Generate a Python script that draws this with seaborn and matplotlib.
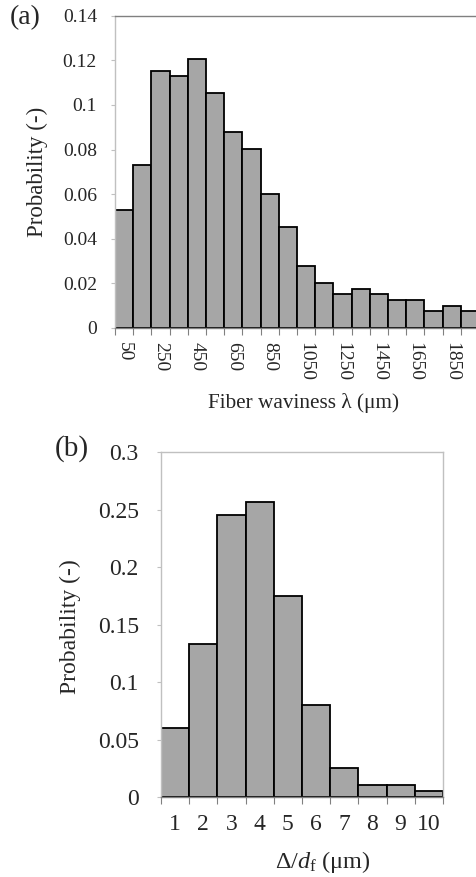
import numpy as np
import pandas as pd
import matplotlib
matplotlib.use("Agg")
import matplotlib.pyplot as plt
import seaborn as sns

# ---- data ----
lam_bins = ["50", "150", "250", "350", "450", "550", "650", "750", "850", "950",
            "1050", "1150", "1250", "1350", "1450", "1550", "1650", "1750", "1850", "1950"]
lam_prob = [0.0527, 0.0729, 0.1153, 0.1129, 0.1204, 0.1053, 0.0878, 0.0802, 0.0602, 0.0451,
            0.0276, 0.0200, 0.0151, 0.0176, 0.0151, 0.0125, 0.0125, 0.0075, 0.0100, 0.0075]
lam_yticks = [0, 0.02, 0.04, 0.06, 0.08, 0.1, 0.12, 0.14]

delta_bins = ["1", "2", "3", "4", "5", "6", "7", "8", "9", "10"]
delta_prob = [0.0598, 0.1329, 0.2452, 0.2562, 0.1750, 0.0798, 0.0252, 0.0104, 0.0104, 0.0052]
delta_yticks = [0, 0.05, 0.1, 0.15, 0.2, 0.25, 0.3]

df_a = pd.DataFrame({"lam": lam_bins, "p": lam_prob})
df_b = pd.DataFrame({"delta": delta_bins, "p": delta_prob})

# ---- style ----
sns.set_theme(style="white")
plt.rcParams["font.family"] = ["Liberation Serif", "DejaVu Serif"]
plt.rcParams["mathtext.fontset"] = "custom"
plt.rcParams["mathtext.rm"] = "Liberation Serif"
plt.rcParams["mathtext.it"] = "Liberation Serif:italic"

BAR = "#a6a6a6"
LIGHT = "#c0c0c0"
DARK = "#808080"

fig = plt.figure(figsize=(4.77, 8.77), dpi=100)
ax1 = fig.add_axes([0.241, 0.626, 0.763, 0.356])
ax2 = fig.add_axes([0.3375, 0.0912, 0.591, 0.3934])


def fmt(v):
    return f"{v:.2f}".rstrip("0").rstrip(".")


def style_axes(ax, n, yticks, top_color, right_color, ylim, fs):
    ax.set_xlim(-0.5, n - 0.5)
    ax.set_ylim(*ylim)
    ax.set_yticks(yticks)
    ax.set_yticklabels([fmt(v) for v in yticks], fontsize=fs)
    ax.set_xticks(np.arange(-0.5, n, 1.0), minor=True)
    ax.tick_params(axis="x", which="minor", length=5, width=0.8, color=DARK, direction="out", bottom=True)
    ax.tick_params(axis="y", which="major", length=3, width=0.8, color=LIGHT, direction="out", left=True)
    for side, col in (("left", LIGHT), ("bottom", DARK), ("top", top_color), ("right", right_color)):
        ax.spines[side].set_color(col)
        ax.spines[side].set_linewidth(1.0)
    ax.grid(False)


# ---- panel (a) ----
sns.barplot(data=df_a, x="lam", y="p", order=lam_bins, color=BAR, saturation=1,
            edgecolor="black", linewidth=1.3, width=1.0, ax=ax1)
style_axes(ax1, len(lam_bins), lam_yticks, DARK, LIGHT, (0, 0.14), 14)
ax1.set_xticks(range(0, len(lam_bins), 2))
ax1.set_xticklabels(lam_bins[::2], rotation=-90, fontsize=14)
ax1.tick_params(axis="x", which="major", length=0, pad=10)
ax1.tick_params(axis="y", which="major", pad=10)
ax1.set_xlabel("Fiber waviness λ (μm)", fontsize=15.3, va="center")
ax1.xaxis.set_label_coords(0.517, -0.24)
ax1.set_ylabel("Probability (-)", fontsize=16.5, va="center")
ax1.yaxis.set_label_coords(-0.214, 0.5)

# ---- panel (b) ----
sns.barplot(data=df_b, x="delta", y="p", order=delta_bins, color=BAR, saturation=1,
            edgecolor="black", linewidth=1.3, width=1.0, ax=ax2)
style_axes(ax2, len(delta_bins), delta_yticks, LIGHT, LIGHT, (0, 0.3), 17)
ax2.set_xticks(range(len(delta_bins)))
ax2.set_xticklabels(delta_bins, fontsize=17)
ax2.tick_params(axis="x", which="major", length=0, pad=12)
ax2.tick_params(axis="y", which="major", pad=13)
ax2.set_xlabel("Δ/$d_{\\mathrm{f}}$ (μm)", fontsize=17.5, va="center")
ax2.xaxis.set_label_coords(0.574, -0.188)
ax2.set_ylabel("Probability (-)", fontsize=17, va="center")
ax2.yaxis.set_label_coords(-0.323, 0.493)

fig.text(10 / 477, 1 - 18 / 877, "(a)", fontsize=20, ha="left", va="center")
fig.text(55 / 477, 1 - 449 / 877, "(b)", fontsize=21, ha="left", va="center")

fig.savefig("out.png", dpi=100)
